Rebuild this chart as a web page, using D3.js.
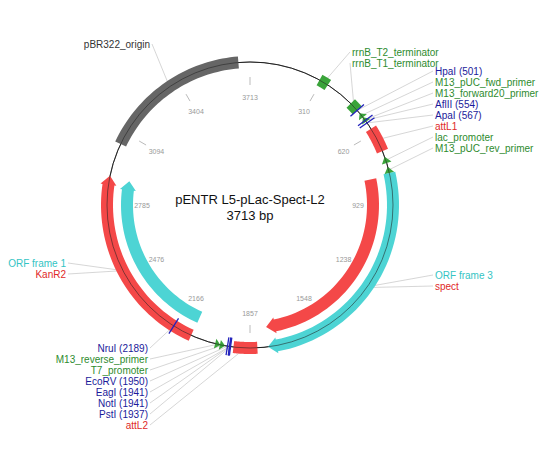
<!DOCTYPE html>
<html><head><meta charset="utf-8">
<script src="https://cdn.jsdelivr.net/npm/d3@7"></script>
<style>body{margin:0;background:#fff}svg{font-family:"Liberation Sans",Arial,sans-serif}</style>
</head><body><svg id="c" width="540" height="463"></svg>
<script>
const seqLen = 3713;
const title = ["pENTR L5-pLac-Spect-L2", "3713 bp"];
const tickLabels = ["3713","310","620","929","1238","1548","1857","2166","2476","2785","3094","3404"];
const featNames = ["pBR322_origin","rrnB_T2_terminator","rrnB_T1_terminator","M13_pUC_fwd_primer","M13_forward20_primer","attL1","lac_promoter","M13_pUC_rev_primer","spect","ORF frame 3","attL2","T7_promoter","M13_reverse_primer","KanR2","ORF frame 1"];
const featStart = [3045,300,462,516,538,596,725,768,805,795,1826,1960,1980,2107,2105];
const featEnd   = [3665,340,500,538,560,700,752,795,1779,1782,1925,1982,2002,2906,2900];
const featKind  = ["origin","term","term","primer","primer","att","promoter","primer","gene","orf","att","promoter","primer","gene","orf"];
const featDir   = [0,0,0,-1,-1,0,-1,-1,1,1,0,-1,-1,1,1];
const featTrack = [0,0,0,0,0,0,0,0,-1,0,0,0,0,0,-1];
const siteNames = ["HpaI (501)","AflII (554)","ApaI (567)","PstI (1937)","NotI (1941)","EagI (1941)","EcoRV (1950)","NruI (2189)"];
const sitePos   = [501,554,567,1937,1941,1941,1950,2189];
const labText = ["pBR322_origin","rrnB_T2_terminator","rrnB_T1_terminator","HpaI (501)","M13_pUC_fwd_primer","M13_forward20_primer","AflII (554)","ApaI (567)","attL1","lac_promoter","M13_pUC_rev_primer","ORF frame 3","spect","ORF frame 1","KanR2","NruI (2189)","M13_reverse_primer","T7_promoter","EcoRV (1950)","EagI (1941)","NotI (1941)","PstI (1937)","attL2"];
const labPos = [3360,320,481,501,528,551,554,567,648,740,782,1288,1292,2503,2503,2189,1992,1972,1950,1941,1941,1937,1875];
const labX = [150,352,352,435,435,435,435,435,435,435,435,435,435,66,66,148,148,148,148,148,148,148,148];
const labY = [48,56,67,75,86,97,108,119,130,141,152,279,290,267,278,352,363,374,385,396,407,418,429];
const labKind = ["origin","term","term","site","primer","primer","site","site","att","promoter","primer","orf","gene","orf","gene","site","primer","promoter","site","site","site","site","att"];

const fill = {origin:"#666",term:"#3aa43a",primer:"#3aa43a",promoter:"#3aa43a",att:"#f44848",gene:"#f44848",orf:"#4dd4d4"};
const txt = {origin:"#333",term:"#2e8b2e",primer:"#2e8b2e",promoter:"#2e8b2e",att:"#e02828",gene:"#e02828",orf:"#33c4c4",site:"#1a1a9a"};

const svg = d3.select("#c");
const cx = 250, cy = 205, R = 143, W = 12, trackGap = 20;
const ang = d3.scaleLinear().domain([0, seqLen]).range([0, 2*Math.PI]);
const pt = (a, r) => [cx + r*Math.sin(a), cy - r*Math.cos(a)];

labText.forEach((t,i)=>{
  const p = pt(ang(labPos[i]), R);
  const right = labX[i] > cx && t !== "pBR322_origin";
  const x = t==="pBR322_origin" ? labX[i]+2 : (right ? labX[i]-2 : labX[i]+2);
  svg.append("line").attr("x1",x).attr("y1",labY[i]-4).attr("x2",p[0]).attr("y2",p[1])
    .attr("stroke","#ccc").attr("stroke-width",0.8);
});

svg.append("circle").attr("cx",cx).attr("cy",cy).attr("r",R).attr("fill","none").attr("stroke","#222").attr("stroke-width",1);

tickLabels.forEach((t,i)=>{
  const a = ang(seqLen*i/12);
  const p1 = pt(a,120), p2 = pt(a,128), pl = pt(a,108);
  svg.append("line").attr("x1",p1[0]).attr("y1",p1[1]).attr("x2",p2[0]).attr("y2",p2[1]).attr("stroke","#bbb");
  svg.append("text").attr("x",pl[0]).attr("y",pl[1]+2.5).attr("text-anchor","middle").attr("font-size",7).attr("fill","#999").text(t);
});

function arrowPath(a0,a1,r0,r1,dir,isPrim){
  const rm=(r0+r1)/2;
  const h = isPrim ? Math.abs(a1-a0) : 9/rm;
  const ext = isPrim ? 0 : 2;
  const pts=[], n=40;
  if(dir===0){
    for(let k=0;k<=n;k++) pts.push(pt(a0+(a1-a0)*k/n,r1));
    for(let k=n;k>=0;k--) pts.push(pt(a0+(a1-a0)*k/n,r0));
  } else if(dir===1){
    const b=a1-h;
    for(let k=0;k<=n;k++) pts.push(pt(a0+(b-a0)*k/n,r1));
    pts.push(pt(b,r1+ext)); pts.push(pt(a1,rm)); pts.push(pt(b,r0-ext));
    for(let k=n;k>=0;k--) pts.push(pt(a0+(b-a0)*k/n,r0));
  } else {
    const b=a0+h;
    pts.push(pt(a0,rm)); pts.push(pt(b,r1+ext));
    for(let k=0;k<=n;k++) pts.push(pt(b+(a1-b)*k/n,r1));
    for(let k=n;k>=0;k--) pts.push(pt(b+(a1-b)*k/n,r0));
    pts.push(pt(b,r0-ext));
  }
  return d3.line()(pts)+"Z";
}
featNames.forEach((nm,i)=>{
  const isPrim = featKind[i]==="primer"||featKind[i]==="promoter";
  const rc = R + featTrack[i]*trackGap, w = isPrim?5:W/2;
  svg.append("path").attr("d",arrowPath(ang(featStart[i]),ang(featEnd[i]),rc-w,rc+w,featDir[i],isPrim))
    .attr("fill",fill[featKind[i]]);
});
svg.append("circle").attr("cx",cx).attr("cy",cy).attr("r",R).attr("fill","none").attr("stroke","#222").attr("stroke-width",0.8).attr("opacity",0.7);
siteNames.forEach((s,i)=>{
  const a=ang(sitePos[i]); const p1=pt(a,R-9), p2=pt(a,R+9);
  svg.append("line").attr("x1",p1[0]).attr("y1",p1[1]).attr("x2",p2[0]).attr("y2",p2[1]).attr("stroke","#2222bb").attr("stroke-width",1.3);
});

labText.forEach((t,i)=>{
  const right = labX[i] > cx && t !== "pBR322_origin";
  svg.append("text").attr("x",labX[i]).attr("y",labY[i]).attr("font-size",10)
    .attr("text-anchor", right ? "start" : "end").attr("fill",txt[labKind[i]]).text(t);
});

svg.append("text").attr("x",cx).attr("y",204).attr("text-anchor","middle").attr("font-size",13).attr("fill","#111").text(title[0]);
svg.append("text").attr("x",cx).attr("y",220).attr("text-anchor","middle").attr("font-size",13).attr("fill","#111").text(title[1]);
</script></body></html>
